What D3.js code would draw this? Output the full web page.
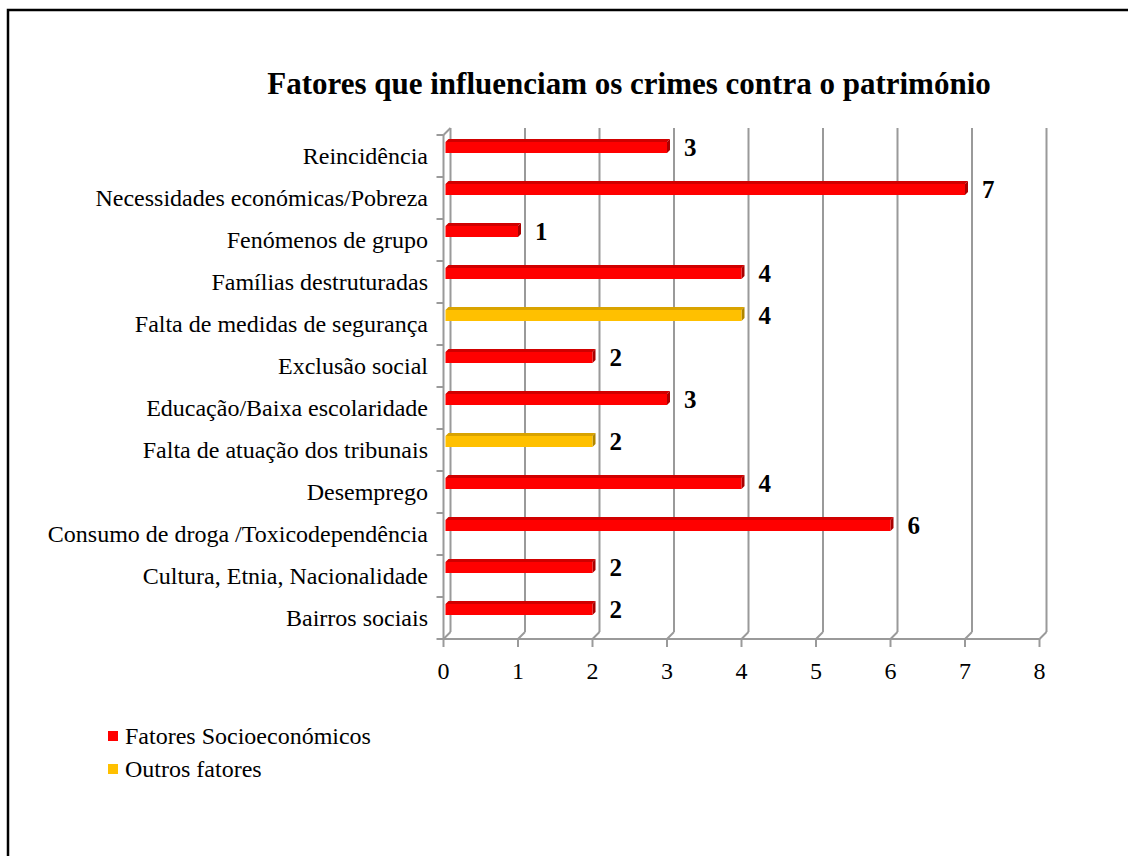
<!DOCTYPE html>
<html><head><meta charset="utf-8">
<script src="https://cdn.jsdelivr.net/npm/d3@7"></script>
<style>body{margin:0;background:#fff}svg{display:block}</style>
</head><body>
<svg id="c" width="1128" height="856"></svg>
<script>
const categories = ["Reincidência","Necessidades económicas/Pobreza","Fenómenos de grupo","Famílias destruturadas","Falta de medidas de segurança","Exclusão social","Educação/Baixa escolaridade","Falta de atuação dos tribunais","Desemprego","Consumo de droga /Toxicodependência","Cultura, Etnia, Nacionalidade","Bairros sociais"];
const values = [3,7,1,4,4,2,3,2,4,6,2,2];
const groups = ["S","S","S","S","O","S","S","O","S","S","S","S"];
const seriesNames = ["Fatores Socioeconómicos","Outros fatores"];
const xTicks = [0,1,2,3,4,5,6,7,8];
const title = "Fatores que influenciam os crimes contra o património";

const svg = d3.select("#c");
const font = "'Liberation Serif','Times New Roman',serif";
const colors = {S:{front:"#FF0000",top:"#D00000",side:"#A80000"}, O:{front:"#FFC000",top:"#D9A300",side:"#B08600"}};

svg.append("rect").attr("x",8).attr("y",10).attr("width",1200).attr("height",900)
  .attr("fill","none").attr("stroke","#000").attr("stroke-width",2.5);

const x0 = 443.5, x1 = 1039.5, yTop = 135, yBot = 639, dx = 7, dy = -7;
const x = d3.scaleLinear().domain([0,8]).range([x0,x1]);
const y = d3.scaleBand().domain(categories).range([yTop,yBot]);
const grid = "#9A9A9A";

const g = svg.append("g");
xTicks.forEach(t=>{
  g.append("line").attr("x1",x(t)+dx).attr("x2",x(t)+dx).attr("y1",yTop+dy).attr("y2",yBot+dy)
   .attr("stroke",grid).attr("stroke-width",2);
  g.append("line").attr("x1",x(t)).attr("y1",yBot).attr("x2",x(t)+dx).attr("y2",yBot+dy)
   .attr("stroke",grid).attr("stroke-width",2);
});
g.append("line").attr("x1",x0).attr("y1",yTop).attr("x2",x0+dx).attr("y2",yTop+dy).attr("stroke",grid).attr("stroke-width",2);
g.append("line").attr("x1",x0).attr("x2",x0).attr("y1",yTop).attr("y2",yBot).attr("stroke",grid).attr("stroke-width",2);
g.append("line").attr("x1",x0).attr("x2",x1).attr("y1",yBot).attr("y2",yBot).attr("stroke",grid).attr("stroke-width",2);
const bounds = categories.map(c=>y(c)).concat([yBot]);
bounds.forEach(b=>g.append("line").attr("x1",x0-7).attr("x2",x0).attr("y1",b).attr("y2",b).attr("stroke",grid).attr("stroke-width",2));
xTicks.forEach(t=>g.append("line").attr("x1",x(t)).attr("x2",x(t)).attr("y1",yBot).attr("y2",yBot+8).attr("stroke",grid).attr("stroke-width",2));

svg.append("g").selectAll("text").data(xTicks).join("text")
  .attr("x",d=>x(d)).attr("y",679).attr("text-anchor","middle")
  .attr("font-family",font).attr("font-size",24).text(d=>d);

svg.append("g").selectAll("text").data(categories).join("text")
  .attr("x",428).attr("y",d=>y(d)+y.bandwidth()/2+8).attr("text-anchor","end")
  .attr("font-family",font).attr("font-size",24).text(d=>d);

const bars = svg.append("g");
const depth = 3, bh = 11;
categories.forEach((c,i)=>{
  const col = colors[groups[i]];
  const by = y(c)+7;
  const bx = x(0)+2, ex = x(values[i]);
  bars.append("path").attr("d",`M${bx},${by} L${bx+depth},${by-depth} L${ex+depth},${by-depth} L${ex},${by} Z`).attr("fill",col.top);
  bars.append("path").attr("d",`M${ex},${by} L${ex+depth},${by-depth} L${ex+depth},${by+bh-depth} L${ex},${by+bh} Z`).attr("fill",col.side);
  bars.append("rect").attr("x",bx).attr("y",by).attr("width",ex-bx).attr("height",bh).attr("fill",col.front);
  bars.append("text").attr("x",ex+17).attr("y",by+bh/2+8)
    .attr("font-family",font).attr("font-weight","bold").attr("font-size",25).text(values[i]);
});

svg.append("text").attr("x",629).attr("y",94).attr("text-anchor","middle")
  .attr("font-family",font).attr("font-weight","bold").attr("font-size",31).text(title);

const leg = svg.append("g");
seriesNames.forEach((n,i)=>{
  const key = i===0?"S":"O";
  leg.append("rect").attr("x",108).attr("y",731+i*33).attr("width",10).attr("height",10).attr("fill",colors[key].front);
  leg.append("text").attr("x",125).attr("y",744+i*33).attr("font-family",font).attr("font-size",24).text(n);
});
</script>
</body></html>
